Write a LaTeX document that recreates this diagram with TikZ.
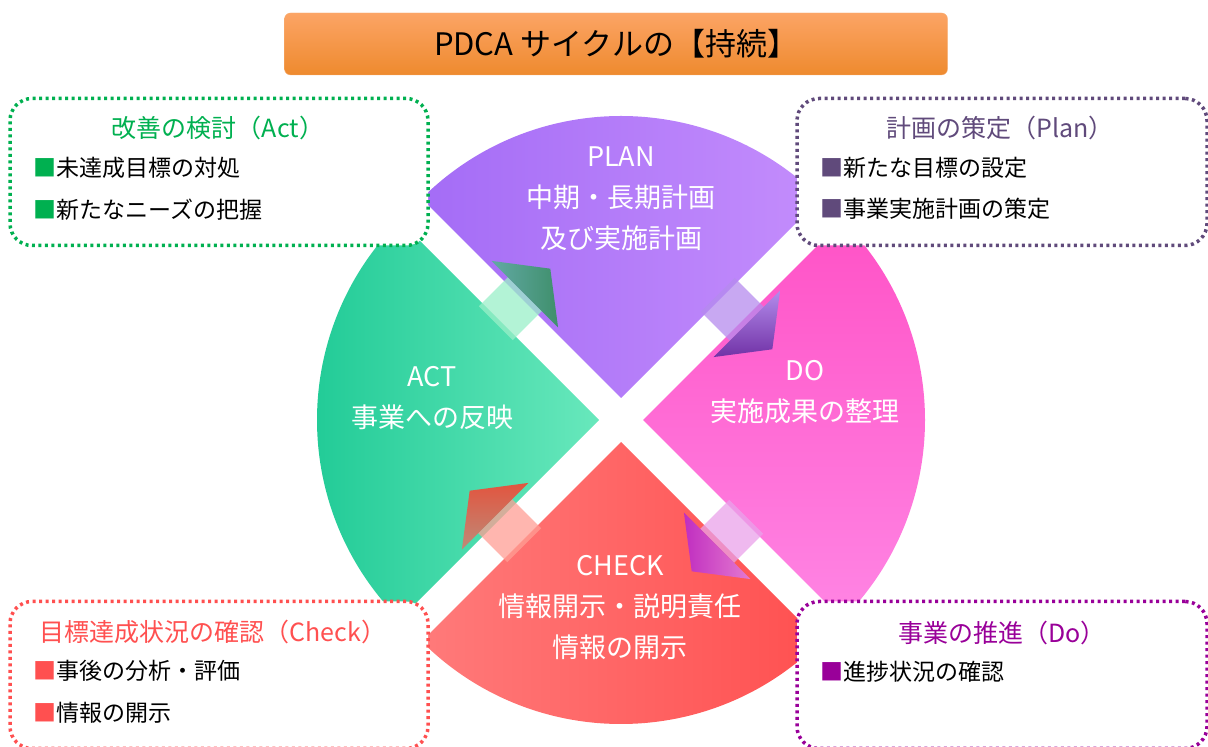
\documentclass[tikz,border=0pt]{standalone}
\usepackage{fontspec}
\setmainfont{Noto Sans CJK JP}
\usepackage{xcolor}
\usepackage{tikz}

\definecolor{actgreen}{HTML}{00B050}
\definecolor{planpurple}{HTML}{604A7B}
\definecolor{checkred}{HTML}{FF5050}
\definecolor{domagenta}{HTML}{990099}
% sector colours
\definecolor{planA}{HTML}{A46CF6}
\definecolor{planB}{HTML}{C48DFC}
\definecolor{doA}{HTML}{FF52C6}
\definecolor{doB}{HTML}{FF85E4}
\definecolor{checkA}{HTML}{FF7A7A}
\definecolor{checkB}{HTML}{FF5050}
\definecolor{actA}{HTML}{1CC994}
\definecolor{actB}{HTML}{68E8BC}
% arrow colours
\definecolor{upshaft}{HTML}{9AEFC8}
\definecolor{upheadA}{HTML}{62A9A4}
\definecolor{upheadB}{HTML}{3F8F6C}
\definecolor{rightshaft}{HTML}{B58BEE}
\definecolor{rightheadA}{HTML}{B48CEC}
\definecolor{rightheadB}{HTML}{7132A6}
\definecolor{downshaft}{HTML}{E9A2EA}
\definecolor{downheadA}{HTML}{C02EC0}
\definecolor{downheadB}{HTML}{E47AD0}
\definecolor{leftshaft}{HTML}{FF9E94}
\definecolor{leftheadA}{HTML}{E2553F}
\definecolor{leftheadB}{HTML}{BE8A78}
% title colours
\definecolor{titleA}{HTML}{FCA465}
\definecolor{titleB}{HTML}{EE8A2E}
\definecolor{titleline}{HTML}{F7B27A}

\begin{document}
\begin{tikzpicture}[x=1pt,y=1pt]
			\tikzstyle{sectortext}=[text=white, align=center, font=\fontsize{27}{41}\selectfont]
			\tikzstyle{memo}=[rounded corners=22pt, line width=3.5pt, dash pattern=on 3pt off 3.5pt, fill=white, minimum height=147pt]
			\tikzstyle{memotitle}=[font=\fontsize{25}{25}\selectfont]
			\tikzstyle{memoitem}=[anchor=west, font=\fontsize{23}{23}\selectfont]
			\tikzset{shaft/.style = {fill opacity=0.75}}
			
			\useasboundingbox (0,0) rectangle (1208,747);
			\clip (0,0) rectangle (1208,747);
			
			% four sectors round the centre (621,327)
			\shade[left color=planA, right color=planB]
				(621,349) -- ++(45:282) arc[start angle=45, end angle=135, radius=282] -- cycle;
			\shade[top color=doA, bottom color=doB]
				(643,327) -- ++(-45:282) arc[start angle=-45, end angle=45, radius=282] -- cycle;
			\shade[left color=checkA, right color=checkB]
				(621,305) -- ++(-135:282) arc[start angle=-135, end angle=-45, radius=282] -- cycle;
			\shade[left color=actA, right color=actB]
				(599,327) -- ++(135:282) arc[start angle=135, end angle=225, radius=282] -- cycle;
			
			% arrows between the sectors
			\begin{scope}[shift={(621,327)}, rotate=45]
				\fill[shaft, upshaft] (-20,133) rectangle (21,181);
				\shade[left color=upheadA, right color=upheadB]
					(21,110) -- (57,157) -- (21,204) -- cycle;
			\end{scope}
			\begin{scope}[shift={(621,327)}, rotate=-45]
				\fill[shaft, rightshaft] (-20,133) rectangle (21,181);
				\shade[top color=rightheadA, bottom color=rightheadB]
					(21,110) -- (57,157) -- (21,204) -- cycle;
			\end{scope}
			\begin{scope}[shift={(621,327)}, rotate=-135]
				\fill[shaft, downshaft] (-20,133) rectangle (21,181);
				\shade[left color=downheadA, right color=downheadB]
					(21,110) -- (57,157) -- (21,204) -- cycle;
			\end{scope}
			\begin{scope}[shift={(621,327)}, rotate=135]
				\fill[shaft, leftshaft] (-20,133) rectangle (21,181);
				\shade[shading angle=45, top color=leftheadA, bottom color=leftheadB]
					(21,110) -- (57,157) -- (21,204) -- cycle;
			\end{scope}
			
			% sector labels
			\node[sectortext](plan) at (621,548) {PLAN\\中期・長期計画\\及び実施計画};
			\node[sectortext](do) at (805,355) {DO\\実施成果の整理};
			\node[sectortext](check) at (620,139) {CHECK\\情報開示・説明責任\\情報の開示};
			\node[sectortext](act) at (432,349) {ACT\\事業への反映};
			
			% title
			\node[rounded corners=6pt, draw=titleline, top color=titleA, bottom color=titleB,
				minimum width=663pt, minimum height=62pt, font=\fontsize{31}{31}\selectfont](title) at (616,703) {PDCA サイクルの【持続】};
			
			% corner memos
			\node[memo, draw=actgreen, minimum width=418pt](actbox) at (219,575) {};
			\node[memotitle, text=actgreen](acttitle) at (218,619) {改善の検討（Act）};
			\node[memoitem](actitem1) at (30,579) {{\color{actgreen}■}未達成目標の対処};
			\node[memoitem](actitem2) at (30,537) {{\color{actgreen}■}新たなニーズの把握};
			
			\node[memo, draw=planpurple, minimum width=410pt](planbox) at (1002,575) {};
			\node[memotitle, text=planpurple](plantitle) at (1000,619) {計画の策定（Plan）};
			\node[memoitem](planitem1) at (817,579) {{\color{planpurple}■}新たな目標の設定};
			\node[memoitem](planitem2) at (817,538) {{\color{planpurple}■}事業実施計画の策定};
			
			\node[memo, draw=checkred, minimum width=418pt](checkbox) at (219,72) {};
			\node[memotitle, text=checkred](checktitle) at (213,115) {目標達成状況の確認（Check）};
			\node[memoitem](checkitem1) at (30,76) {{\color{checkred}■}事後の分析・評価};
			\node[memoitem](checkitem2) at (30,34) {{\color{checkred}■}情報の開示};
			
			\node[memo, draw=domagenta, minimum width=410pt](dobox) at (1002,72) {};
			\node[memotitle, text=domagenta](dotitle) at (1002,114) {事業の推進（Do）};
			\node[memoitem](doitem1) at (817,75) {{\color{domagenta}■}進捗状況の確認};
			
			\end{tikzpicture}
\end{document}
